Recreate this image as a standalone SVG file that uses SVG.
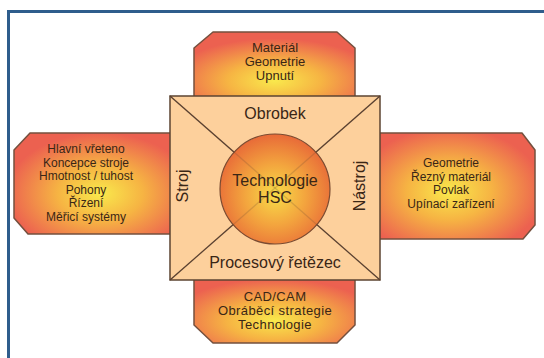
<svg xmlns="http://www.w3.org/2000/svg" width="544" height="358" viewBox="0 0 544 358">
  <defs>
    <radialGradient id="gTop" cx="0.5" cy="0.75" r="0.65">
      <stop offset="0" stop-color="#f9e94c"/>
      <stop offset="0.45" stop-color="#f6b443"/>
      <stop offset="1" stop-color="#ec6150"/>
    </radialGradient>
    <radialGradient id="gBot" cx="0.5" cy="0.65" r="0.65">
      <stop offset="0" stop-color="#f9e94c"/>
      <stop offset="0.45" stop-color="#f6b443"/>
      <stop offset="1" stop-color="#ec6150"/>
    </radialGradient>
    <radialGradient id="gLeft" cx="0.55" cy="0.6" r="0.6">
      <stop offset="0" stop-color="#f9e94c"/>
      <stop offset="0.45" stop-color="#f6b443"/>
      <stop offset="1" stop-color="#ec6150"/>
    </radialGradient>
    <radialGradient id="gRight" cx="0.45" cy="0.55" r="0.6">
      <stop offset="0" stop-color="#f9e94c"/>
      <stop offset="0.45" stop-color="#f6b443"/>
      <stop offset="1" stop-color="#ec6150"/>
    </radialGradient>
    <radialGradient id="gCircle" cx="0.5" cy="0.55" r="0.55">
      <stop offset="0" stop-color="#f8dc48"/>
      <stop offset="0.5" stop-color="#f3a53e"/>
      <stop offset="1" stop-color="#e86a38"/>
    </radialGradient>
  </defs>
  <style>
    .box { stroke: #74503e; stroke-width: 1.5; stroke-linejoin: round; }
    .t { font-family: "Liberation Sans", Arial, sans-serif; fill: #3a2616; text-anchor: middle; }
    .s12 { font-size: 12px; }
    .s13 { font-size: 13px; }
    .s13w { font-size: 13px; letter-spacing: 0.4px; }
    .big { font-size: 16px; }
    .diag { stroke: #5a4030; stroke-width: 1.2; }
  </style>
  <rect x="0" y="0" width="544" height="358" fill="#ffffff"/>
  <rect x="8.5" y="11.5" width="600" height="400" fill="none" stroke="#2f5d8c" stroke-width="3"/>

  <g id="top-box">
    <path class="box" fill="url(#gTop)" d="M194,97 V48 L213,32 H337 L355,48 V97 Z"/>
    <text class="t s13" x="275" y="52">Materiál</text>
    <text class="t s13" x="275" y="66">Geometrie</text>
    <text class="t s13" x="275" y="80">Upnutí</text>
  </g>

  <g id="bottom-box">
    <path class="box" fill="url(#gBot)" d="M194,279 V325 L213,343 H337 L355,325 V279 Z"/>
    <text class="t s13w" x="275" y="301">CAD/CAM</text>
    <text class="t s13w" x="275" y="315">Obráběcí strategie</text>
    <text class="t s13w" x="275" y="329">Technologie</text>
  </g>

  <g id="left-box">
    <path class="box" fill="url(#gLeft)" d="M171,133 H30 L14,150 V218 L28,234 H171 Z"/>
    <text class="t s12" x="86" y="153">Hlavní vřeteno</text>
    <text class="t s12" x="86" y="167">Koncepce stroje</text>
    <text class="t s12" x="86" y="180">Hmotnost / tuhost</text>
    <text class="t s12" x="86" y="194">Pohony</text>
    <text class="t s12" x="86" y="207">Řízení</text>
    <text class="t s12" x="86" y="221">Měřicí systémy</text>
  </g>

  <g id="right-box">
    <path class="box" fill="url(#gRight)" d="M379,133 H522 L535,150 V225 L523,239 H379 Z"/>
    <text class="t s12" x="451" y="167">Geometrie</text>
    <text class="t s12" x="451" y="181">Řezný materiál</text>
    <text class="t s12" x="451" y="194">Povlak</text>
    <text class="t s12" x="451" y="208">Upínací zařízení</text>
  </g>

  <g id="center-square">
    <rect x="170" y="96" width="210" height="184" fill="#fdd09c" stroke="#5c4432" stroke-width="1.5"/>
    <text class="t big" x="275" y="119">Obrobek</text>
    <text class="t big" x="275" y="268">Procesový řetězec</text>
    <text class="t big" transform="translate(188,186) rotate(-90)" x="0" y="0">Stroj</text>
    <text class="t big" transform="translate(365,186) rotate(-90)" x="0" y="0">Nástroj</text>
  </g>

  <g id="connectors">
    <line class="diag" x1="170" y1="96" x2="380" y2="280"/>
    <line class="diag" x1="380" y1="96" x2="170" y2="280"/>
  </g>

  <g id="center-circle">
    <circle cx="275" cy="189" r="55" fill="url(#gCircle)" stroke="#7a4a30" stroke-width="1.2"/>
    <line class="diag" x1="170" y1="96" x2="380" y2="280" opacity="0.2"/>
    <line class="diag" x1="380" y1="96" x2="170" y2="280" opacity="0.2"/>
    <text class="t big" x="275" y="186">Technologie</text>
    <text class="t big" x="275" y="203">HSC</text>
  </g>
</svg>
